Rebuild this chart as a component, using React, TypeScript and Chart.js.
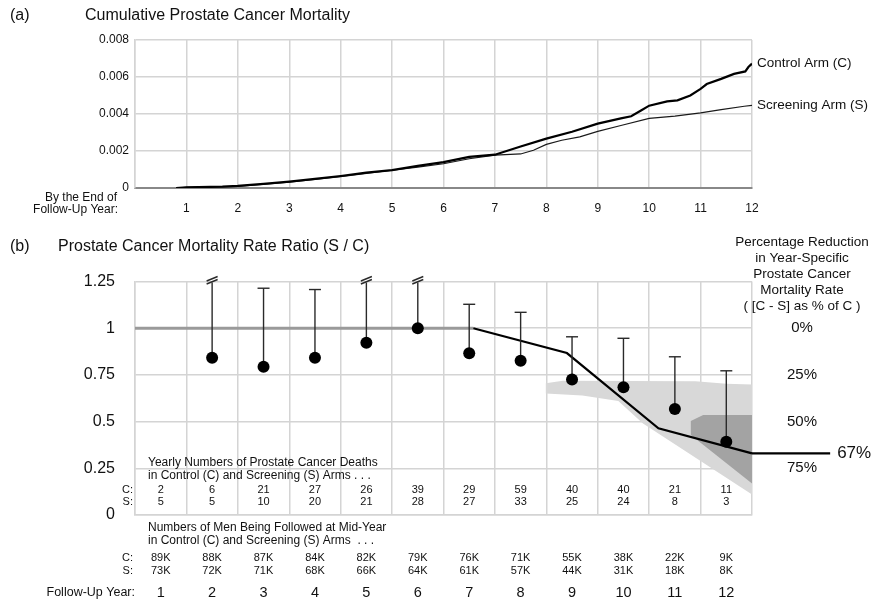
import React, { useEffect, useRef } from 'react';
import { Chart, registerables } from 'chart.js';

Chart.register(...registerables);

const FONT = "'Liberation Sans', Arial, Helvetica, sans-serif";

// ---------- Panel (a): cumulative prostate cancer mortality ----------
const controlX = [0.8, 1.0, 1.7, 2.0, 2.5, 3.0, 3.5, 4.0, 4.5, 5.0, 5.5, 6.0, 6.5, 7.0, 7.5, 8.0, 8.5, 9.0, 9.45, 9.65, 9.85, 10.0, 10.35, 10.55, 10.8, 11.0, 11.12, 11.4, 11.65, 11.87, 11.93, 12.0];
const controlY = [0.0, 0.00004, 0.00007, 0.00011, 0.00022, 0.00034, 0.00049, 0.00065, 0.00083, 0.00097, 0.0012, 0.0014, 0.00168, 0.0018, 0.00224, 0.00267, 0.00304, 0.00348, 0.00376, 0.00388, 0.0042, 0.00445, 0.00468, 0.00474, 0.005, 0.00536, 0.00562, 0.0059, 0.00617, 0.0063, 0.00654, 0.00672];
const screenX = [0.8, 1.0, 2.0, 3.0, 4.0, 5.0, 5.5, 6.0, 6.5, 7.0, 7.5, 7.75, 8.0, 8.3, 8.65, 9.0, 9.45, 10.0, 10.5, 11.0, 11.4, 11.85, 12.0];
const screenY = [0.0, 0.00003, 0.00009, 0.00032, 0.00061, 0.00096, 0.00113, 0.00131, 0.00158, 0.00178, 0.00184, 0.00204, 0.00236, 0.00258, 0.00276, 0.00306, 0.00338, 0.00376, 0.00389, 0.00406, 0.00424, 0.00442, 0.00447];
const seriesNames = ['Control Arm (C)', 'Screening Arm (S)'];

// ---------- Panel (b): rate ratio ----------
const years = [1, 2, 3, 4, 5, 6, 7, 8, 9, 10, 11, 12];
const ratio: (number | null)[] = [null, 0.842, 0.794, 0.842, 0.922, 1.0, 0.866, 0.826, 0.726, 0.684, 0.567, 0.392];
const ciUpper: (number | null)[] = [null, null, 1.214, 1.207, null, null, 1.128, 1.085, 0.954, 0.946, 0.847, 0.772];
const brokenYears = [2, 5, 6];
const refLineX = [0, 6.58];
const refLineY = [1, 1];
const trendX = [6.58, 8.4, 10.18, 12, 13.52];
const trendY = [1, 0.867, 0.464, 0.33, 0.33];
const lightX = [7.99, 7.99, 8.32, 10.9, 11.5, 12, 12, 9.88, 9.4, 8.7];
const lightY = [0.651, 0.705, 0.719, 0.716, 0.703, 0.698, 0.11, 0.49, 0.61, 0.64];
const darkX = [10.81, 10.81, 11.05, 12, 12];
const darkY = [0.428, 0.503, 0.535, 0.535, 0.169];
const deathsC = [2, 6, 21, 27, 26, 39, 29, 59, 40, 40, 21, 11];
const deathsS = [5, 5, 10, 20, 21, 28, 27, 33, 25, 24, 8, 3];
const menC = ['89K', '88K', '87K', '84K', '82K', '79K', '76K', '71K', '55K', '38K', '22K', '9K'];
const menS = ['73K', '72K', '71K', '68K', '66K', '64K', '61K', '57K', '44K', '31K', '18K', '8K'];
const rightHeader = ['Percentage Reduction', 'in Year-Specific', 'Prostate Cancer', 'Mortality Rate', '( [C - S] as % of C )'];

const pts = (xs: number[], ys: number[]) => xs.map((x, i) => ({ x, y: ys[i] }));

function txt(ctx: CanvasRenderingContext2D, s: string, x: number, y: number, size: number, align: CanvasTextAlign = 'left') {
  ctx.font = `${size}px ${FONT}`;
  ctx.textAlign = align;
  ctx.textBaseline = 'middle';
  ctx.fillStyle = '#111';
  ctx.fillText(s, x, y);
}

const GRID = '#d4d4d4';

export default function App() {
  const refA = useRef<HTMLCanvasElement>(null);
  const refB = useRef<HTMLCanvasElement>(null);

  useEffect(() => {
    const textA = {
      id: 'textA',
      afterDraw(chart: any) {
        const ctx = chart.ctx as CanvasRenderingContext2D;
        const xs = chart.scales.x, ys = chart.scales.y;
        ctx.save();
        txt(ctx, '(a)', 10, 16, 16);
        txt(ctx, 'Cumulative Prostate Cancer Mortality', 85, 16, 16);
        txt(ctx, 'By the End of', 117, 198, 12, 'right');
        txt(ctx, 'Follow-Up Year:', 118, 210, 12, 'right');
        const xe = xs.getPixelForValue(12) + 5;
        txt(ctx, seriesNames[0], xe, ys.getPixelForValue(controlY[controlY.length - 1]), 13.5);
        txt(ctx, seriesNames[1], xe, ys.getPixelForValue(screenY[screenY.length - 1]), 13.5);
        ctx.restore();
      },
    };

    const chartA = new Chart(refA.current!, {
      type: 'line',
      data: {
        datasets: [
          { data: pts(controlX, controlY), borderColor: '#000', borderWidth: 2.2, pointRadius: 0, tension: 0 },
          { data: pts(screenX, screenY), borderColor: '#1a1a1a', borderWidth: 1.2, pointRadius: 0, tension: 0 },
        ],
      },
      options: {
        responsive: false,
        animation: false,
        events: [],
        layout: { padding: { left: 95, right: 122, top: 40, bottom: 601 - 188 - 30 } },
        plugins: { legend: { display: false }, tooltip: { enabled: false } },
        scales: {
          x: {
            type: 'linear', min: 0, max: 12,
            ticks: { stepSize: 1, padding: 13, color: '#111', font: { size: 12, family: FONT }, callback: (v: any) => (v === 0 ? '' : String(v)) },
            grid: { color: GRID, lineWidth: 1.5, drawTicks: false },
            border: { color: '#888', width: 2 },
            afterFit: (s: any) => { s.height = 30; },
          },
          y: {
            min: 0, max: 0.008,
            ticks: { stepSize: 0.002, padding: 6, color: '#111', font: { size: 12, family: FONT }, callback: (v: any) => (v === 0 ? '0' : Number(v).toFixed(3)) },
            grid: { color: GRID, lineWidth: 1.5, drawTicks: false },
            border: { color: GRID, width: 1.5 },
            afterFit: (s: any) => { s.width = 40; },
          },
        },
      } as any,
      plugins: [textA],
    });

    const errorBars = {
      id: 'errorBars',
      beforeDatasetDraw(chart: any, args: any) {
        if (args.index !== 0) return;
        const ctx = chart.ctx as CanvasRenderingContext2D;
        const xs = chart.scales.x, ys = chart.scales.y;
        ctx.save();
        ctx.strokeStyle = '#2a2a2a';
        ctx.lineWidth = 1.4;
        years.forEach((yr, i) => {
          const r = ratio[i];
          if (r == null) return;
          const px = xs.getPixelForValue(yr - 0.5);
          const py = ys.getPixelForValue(r);
          const broken = brokenYears.includes(yr);
          const up = ciUpper[i];
          const top = broken || up == null ? ys.getPixelForValue(1.25) + 1 : ys.getPixelForValue(up);
          ctx.beginPath();
          ctx.moveTo(px, py);
          ctx.lineTo(px, top);
          ctx.stroke();
          ctx.beginPath();
          if (broken) {
            ctx.moveTo(px - 5.5, top + 1.5); ctx.lineTo(px + 5.5, top - 3);
            ctx.moveTo(px - 5.5, top - 1.5); ctx.lineTo(px + 5.5, top - 6);
          } else {
            ctx.moveTo(px - 6, top); ctx.lineTo(px + 6, top);
          }
          ctx.stroke();
        });
        ctx.restore();
      },
      afterDatasetsDraw(chart: any) {
        // the trend line continues beyond the last follow-up year to its label
        const ctx = chart.ctx as CanvasRenderingContext2D;
        const xs = chart.scales.x, ys = chart.scales.y;
        const n = trendX.length;
        ctx.save();
        ctx.strokeStyle = '#000';
        ctx.lineWidth = 2.2;
        ctx.beginPath();
        ctx.moveTo(xs.getPixelForValue(trendX[n - 2]), ys.getPixelForValue(trendY[n - 2]));
        ctx.lineTo(xs.getPixelForValue(trendX[n - 1]), ys.getPixelForValue(trendY[n - 1]));
        ctx.stroke();
        ctx.restore();
      },
    };

    const textB = {
      id: 'textB',
      afterDraw(chart: any) {
        const ctx = chart.ctx as CanvasRenderingContext2D;
        const xs = chart.scales.x, ys = chart.scales.y;
        ctx.save();
        txt(ctx, '(b)', 10, 247, 16);
        txt(ctx, 'Prostate Cancer Mortality Rate Ratio (S / C)', 58, 247, 16);
        rightHeader.forEach((s, i) => txt(ctx, s, 802, 242 + i * 16, 13.5, 'center'));
        txt(ctx, 'Yearly Numbers of Prostate Cancer Deaths', 148, 463, 12);
        txt(ctx, 'in Control (C) and Screening (S) Arms . . .', 148, 476, 12);
        txt(ctx, 'C:', 133, 489.5, 11, 'right');
        txt(ctx, 'S:', 133, 502, 11, 'right');
        txt(ctx, 'Numbers of Men Being Followed at Mid-Year', 148, 528, 12);
        txt(ctx, 'in Control (C) and Screening (S) Arms  . . .', 148, 541, 12);
        txt(ctx, 'C:', 133, 558, 11, 'right');
        txt(ctx, 'S:', 133, 571, 11, 'right');
        txt(ctx, 'Follow-Up Year:', 135, 593, 12.5, 'right');
        years.forEach((yr, i) => {
          const px = xs.getPixelForValue(yr - 0.5);
          txt(ctx, String(deathsC[i]), px, 489.5, 11, 'center');
          txt(ctx, String(deathsS[i]), px, 502, 11, 'center');
          txt(ctx, menC[i], px, 558, 11, 'center');
          txt(ctx, menS[i], px, 571, 11, 'center');
          txt(ctx, String(yr), px, 593, 14.5, 'center');
        });
        const ex = xs.getPixelForValue(trendX[trendX.length - 1]);
        const ey = ys.getPixelForValue(trendY[trendY.length - 1]);
        const pct = Math.round((1 - trendY[trendY.length - 1]) * 100);
        txt(ctx, `${pct}%`, ex + 7, ey, 17);
        ctx.restore();
      },
    };

    const dots = years
      .map((yr, i) => (ratio[i] == null ? null : { x: yr - 0.5, y: ratio[i] as number }))
      .filter((p) => p !== null) as { x: number; y: number }[];

    const chartB = new Chart(refB.current!, {
      type: 'line',
      data: {
        datasets: [
          { data: dots, showLine: false, pointRadius: 6, pointBackgroundColor: '#000', pointBorderWidth: 0, order: 1 },
          { data: pts(trendX, trendY), borderColor: '#000', borderWidth: 2.2, pointRadius: 0, tension: 0, clip: false, order: 2 },
          { data: pts(refLineX, refLineY), borderColor: '#9a9a9a', borderWidth: 3, pointRadius: 0, order: 3 },
          { data: pts(darkX, darkY), borderWidth: 0, borderColor: 'rgba(0,0,0,0)', backgroundColor: '#a3a3a3', fill: 'shape', pointRadius: 0, order: 4 },
          { data: pts(lightX, lightY), borderWidth: 0, borderColor: 'rgba(0,0,0,0)', backgroundColor: '#d8d8d8', fill: 'shape', pointRadius: 0, order: 5 },
        ],
      },
      options: {
        responsive: false,
        animation: false,
        events: [],
        layout: { padding: { left: 75, right: 22, top: 281.5, bottom: 76 } },
        plugins: { legend: { display: false }, tooltip: { enabled: false } },
        scales: {
          x: {
            type: 'linear', min: 0, max: 12,
            ticks: { stepSize: 1, display: false },
            grid: { color: GRID, lineWidth: 1.5, drawTicks: false },
            border: { color: GRID, width: 1.5 },
            afterFit: (s: any) => { s.height = 10; },
          },
          y: {
            min: 0, max: 1.25,
            ticks: { stepSize: 0.25, padding: 20, color: '#111', font: { size: 16, family: FONT }, callback: (v: any) => String(Number(v)) },
            grid: { color: GRID, lineWidth: 1.5, drawTicks: false },
            border: { color: GRID, width: 1.5 },
            afterFit: (s: any) => { s.width = 60; },
          },
          y2: {
            position: 'right', min: 0, max: 1.25,
            ticks: {
              stepSize: 0.25, padding: 35, crossAlign: 'center', color: '#111', font: { size: 15, family: FONT },
              callback: (v: any) => (v > 0 && v <= 1 ? `${Math.round((1 - v) * 100)}%` : ''),
            },
            grid: { display: false, drawTicks: false },
            border: { display: false },
            afterFit: (s: any) => { s.width = 100; },
          },
        },
      } as any,
      plugins: [errorBars, textB],
    });

    return () => {
      chartA.destroy();
      chartB.destroy();
    };
  }, []);

  return (
    <div style={{ position: 'absolute', left: 0, top: 0, width: 874, height: 601, background: '#fff' }}>
      <canvas ref={refA} width={874} height={601} style={{ position: 'absolute', left: 0, top: 0 }} />
      <canvas ref={refB} width={874} height={601} style={{ position: 'absolute', left: 0, top: 0 }} />
    </div>
  );
}
